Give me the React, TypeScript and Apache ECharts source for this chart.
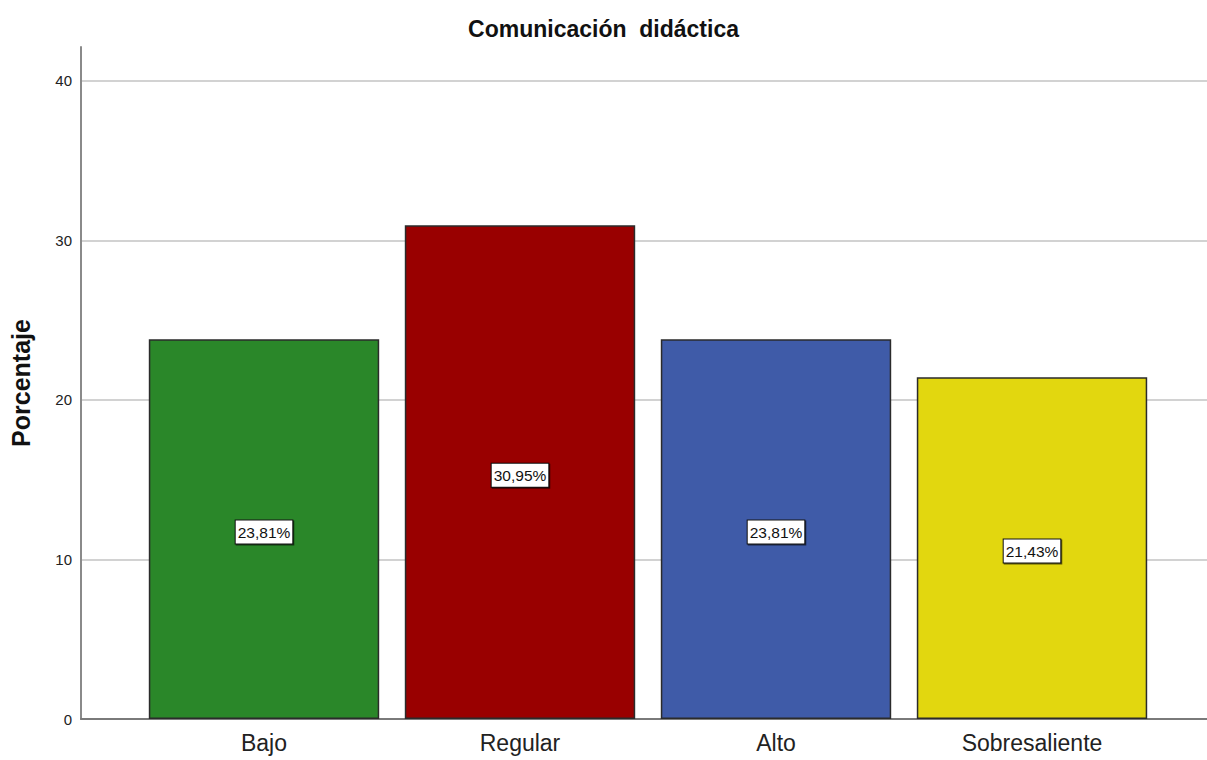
import React, { useEffect, useRef } from "react";
import * as echarts from "echarts";

const categories = ["Bajo", "Regular", "Alto", "Sobresaliente"];
const values = [23.81, 30.95, 23.81, 21.43];
const labels = ["23,81%", "30,95%", "23,81%", "21,43%"];
const colors = ["#2a8729", "#990000", "#3f5ba8", "#e2d70f"];
const yTicks = [0, 10, 20, 30, 40];

export default function App() {
  const ref = useRef<HTMLDivElement>(null);
  useEffect(() => {
    if (!ref.current) return;
    const chart = echarts.init(ref.current, null, { renderer: "svg" });
    const yMax = 42.13;
    chart.setOption({
      animation: false,
      backgroundColor: "#ffffff",
      textStyle: { fontFamily: "Liberation Sans, Arial, sans-serif" },
      title: {
        text: "Comunicación  didáctica",
        left: "center",
        top: 12,
        textStyle: { fontSize: 23, fontWeight: "bold", color: "#111" },
      },
      grid: [
        { left: 79, right: 0, top: 47, bottom: 41 },
        { left: 136, right: 47, top: 47, bottom: 41 },
      ],
      xAxis: [
        {
          gridIndex: 0,
          type: "value",
          min: 0,
          max: 1,
          axisLine: { show: true, onZero: false, lineStyle: { color: "#7a7a7a", width: 2 } },
          axisTick: { show: false },
          axisLabel: { show: false },
          splitLine: { show: false },
        },
        {
          gridIndex: 1,
          type: "category",
          data: categories,
          axisLine: { show: false },
          axisTick: { show: false },
          axisLabel: { fontSize: 23, color: "#222", margin: 12 },
        },
      ],
      yAxis: [
        {
          gridIndex: 0,
          type: "value",
          min: 0,
          max: yMax,
          interval: 10,
          name: "Porcentaje",
          nameLocation: "middle",
          nameGap: 48,
          nameTextStyle: { fontSize: 25, fontWeight: "bold", color: "#111" },
          axisLine: { show: true, lineStyle: { color: "#8a8a8a", width: 2 } },
          axisTick: { show: false },
          axisLabel: {
            fontSize: 15,
            color: "#222",
            margin: 9,
            formatter: (v: number) => (yTicks.includes(v) ? String(v) : ""),
          },
          splitLine: { show: true, showMaxLine: false, lineStyle: { color: "#d2d2d2", width: 2 } },
        },
        {
          gridIndex: 1,
          type: "value",
          min: 0,
          max: yMax,
          show: false,
          splitLine: { show: false },
        },
      ],
      series: [
        {
          type: "bar",
          xAxisIndex: 1,
          yAxisIndex: 1,
          barCategoryGap: "10%",
          data: values.map((v, i) => ({
            value: v,
            itemStyle: { color: colors[i], borderColor: "#2b2b2b", borderWidth: 1.5 },
            label: {
              show: true,
              position: "inside",
              offset: [0, 3],
              formatter: labels[i],
              fontSize: 15.5,
              color: "#111",
              backgroundColor: "#ffffff",
              borderColor: "#111",
              borderWidth: 1,
              padding: [4, 2, 3, 2],
              shadowColor: "rgba(0,0,0,0.6)",
              shadowOffsetX: 1,
              shadowOffsetY: 1,
              shadowBlur: 0,
            },
          })),
        },
      ],
    });
    return () => chart.dispose();
  }, []);
  return (
    <div
      ref={ref}
      style={{ position: "fixed", left: 0, top: 0, width: 1207, height: 760 }}
    />
  );
}
